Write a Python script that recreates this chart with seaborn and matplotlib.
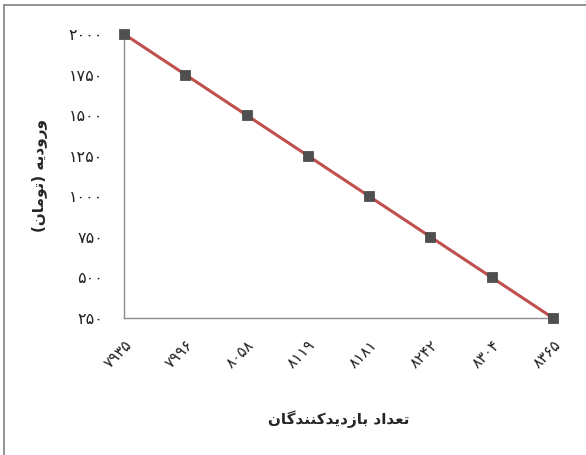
import matplotlib
matplotlib.use("Agg")
import matplotlib.pyplot as plt
from matplotlib.lines import Line2D
import seaborn as sns
import pandas as pd

# Data
visitors = [7935, 7996, 8058, 8119, 8181, 8242, 8304, 8365]
fee = [2000, 1750, 1500, 1250, 1000, 750, 500, 250]
y_ticks = [250, 500, 750, 1000, 1250, 1500, 1750, 2000]
x_title = "تعداد بازدیدکنندگان"
y_title = "ورودیه (تومان)"

PERSIAN_DIGITS = str.maketrans("0123456789", "۰۱۲۳۴۵۶۷۸۹")

# Contextual glyph forms: (isolated, final, initial, medial); None = no left join
FORMS = {
    "ا": ("\uFE8D", "\uFE8E", None, None),
    "د": ("\uFEA9", "\uFEAA", None, None),
    "ر": ("\uFEAD", "\uFEAE", None, None),
    "ز": ("\uFEAF", "\uFEB0", None, None),
    "و": ("\uFEED", "\uFEEE", None, None),
    "ب": ("\uFE8F", "\uFE90", "\uFE91", "\uFE92"),
    "ت": ("\uFE95", "\uFE96", "\uFE97", "\uFE98"),
    "ع": ("\uFEC9", "\uFECA", "\uFECB", "\uFECC"),
    "م": ("\uFEE1", "\uFEE2", "\uFEE3", "\uFEE4"),
    "ن": ("\uFEE5", "\uFEE6", "\uFEE7", "\uFEE8"),
    "ه": ("\uFEE9", "\uFEEA", "\uFEEB", "\uFEEC"),
    "ی": ("\uFBFC", "\uFBFD", "\uFBFE", "\uFBFF"),
    "ک": ("\uFB8E", "\uFB8F", "\uFB90", "\uFB91"),
    "گ": ("\uFB92", "\uFB93", "\uFB94", "\uFB95"),
}
MIRROR = {"(": ")", ")": "("}


def rtl(text):
    """Join Persian letters and return them in left-to-right display order."""
    out = []
    for i, c in enumerate(text):
        if c not in FORMS:
            out.append(MIRROR.get(c, c))
            continue
        prev = text[i - 1] if i > 0 else None
        nxt = text[i + 1] if i + 1 < len(text) else None
        join_prev = prev in FORMS and FORMS[prev][2] is not None
        join_next = nxt in FORMS and FORMS[c][2] is not None
        iso, fin, ini, med = FORMS[c]
        if join_prev and join_next:
            out.append(med)
        elif join_prev:
            out.append(fin)
        elif join_next:
            out.append(ini)
        else:
            out.append(iso)
    return "".join(reversed(out))


sns.set_theme(style="white")
plt.rcParams["font.family"] = ["DejaVu Sans"]

df = pd.DataFrame({"pos": range(len(visitors)), "fee": fee})

fig = plt.figure(figsize=(5.86, 4.55), dpi=100)
ax = fig.add_axes([124 / 586, 1 - 318 / 455, (553 - 124) / 586, (318 - 34) / 455])

sns.lineplot(data=df, x="pos", y="fee", ax=ax, color="#C0504D", linewidth=2.2)
sns.scatterplot(data=df, x="pos", y="fee", ax=ax, marker="s", s=55,
                color="#4F4F4F", edgecolor="#404040", linewidth=0.5,
                zorder=5, clip_on=False)

ax.set_xlim(0, len(visitors) - 1)
ax.set_ylim(min(y_ticks), max(y_ticks))
ax.set_yticks(y_ticks)
ax.set_yticklabels([str(v).translate(PERSIAN_DIGITS) for v in y_ticks],
                   fontsize=11.5, color="#222222")
ax.set_xticks(range(len(visitors)))
ax.set_xticklabels([str(v).translate(PERSIAN_DIGITS) for v in visitors],
                   fontsize=11, color="#222222", rotation=45,
                   ha="right", rotation_mode="anchor")

for side in ("top", "right"):
    ax.spines[side].set_visible(False)
for side in ("left", "bottom"):
    ax.spines[side].set_color("#8C8C8C")
    ax.spines[side].set_linewidth(1.0)
ax.tick_params(axis="both", which="major", direction="out", length=5,
               width=1, color="#8C8C8C")
ax.tick_params(axis="y", pad=10)
ax.tick_params(axis="x", pad=9)

ax.set_xlabel(rtl(x_title), fontsize=11, fontweight="bold", labelpad=28)
ax.set_ylabel(rtl(y_title), fontsize=11, fontweight="bold", labelpad=15)
ax.grid(False)

# Chart frame (top and left edges)
fig.add_artist(Line2D([4 / 586, 1], [1 - 4.5 / 455, 1 - 4.5 / 455],
                      transform=fig.transFigure, color="#8A8A8A", linewidth=1.3))
fig.add_artist(Line2D([4 / 586, 4 / 586], [0, 1 - 4.5 / 455],
                      transform=fig.transFigure, color="#8A8A8A", linewidth=1.3))

fig.savefig("out.png", dpi=100, facecolor="white")
